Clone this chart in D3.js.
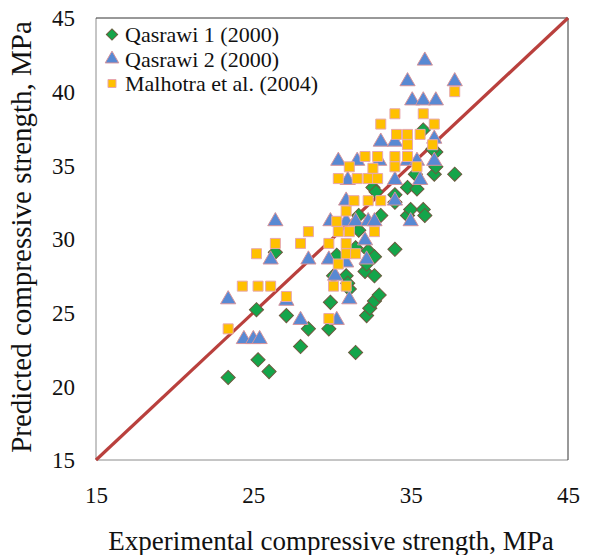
<!DOCTYPE html>
<html>
<head>
<meta charset="utf-8">
<script src="https://cdn.jsdelivr.net/npm/d3@7/dist/d3.min.js"></script>
<style>
  html, body { margin: 0; padding: 0; background: #fff; }
  svg { display: block; }
  svg text { font-family: "Liberation Serif", "Times New Roman", Tinos, "DejaVu Serif", serif; fill: #111; }
</style>
</head>
<body>
<svg id="chart" width="590" height="555"></svg>
<script>
// Experimental vs predicted compressive strength, MPa: [experimental, predicted]
const qasrawi1 = [
  [23.4, 20.6], [25.3, 21.8], [26.0, 21.0], [25.2, 25.2], [27.1, 24.8],
  [26.4, 29.1], [28.0, 22.7], [28.5, 23.9], [29.8, 23.9], [29.9, 25.7],
  [31.5, 22.3], [30.3, 28.9], [30.1, 27.5], [30.9, 27.5], [31.1, 26.6],
  [31.0, 27.0], [31.7, 30.6], [31.7, 31.6], [31.5, 29.4], [32.1, 27.8],
  [32.2, 28.3], [32.3, 29.2], [32.7, 28.8], [32.7, 27.5], [32.2, 24.8],
  [32.4, 25.3], [32.7, 25.8], [33.0, 26.2], [33.1, 31.6], [32.6, 33.5],
  [32.8, 33.2], [34.0, 29.3], [34.0, 33.0], [34.0, 32.5], [34.8, 33.5],
  [34.8, 31.6], [35.0, 32.0], [35.4, 33.4], [35.3, 34.4], [35.8, 32.0],
  [35.9, 31.6], [35.8, 37.4], [36.5, 34.4], [36.6, 34.9], [36.6, 35.9],
  [36.4, 36.1], [37.8, 34.4]
];
const qasrawi2 = [
  [23.4, 25.9], [24.4, 23.2], [25.0, 23.2], [25.4, 23.2], [26.1, 28.6],
  [26.4, 31.2], [27.1, 25.8], [28.0, 24.5], [28.5, 28.6], [29.8, 28.6],
  [29.9, 31.2], [30.4, 35.3], [30.3, 24.5], [30.2, 27.5], [30.9, 28.4],
  [30.9, 31.2], [30.9, 32.6], [31.0, 34.0], [31.1, 25.9], [31.5, 31.2],
  [31.6, 35.3], [32.1, 29.9], [32.2, 28.6], [32.3, 31.2], [32.7, 31.2],
  [33.1, 36.6], [33.0, 35.3], [34.0, 34.0], [34.0, 32.6], [34.0, 36.6],
  [34.8, 40.7], [35.0, 31.2], [35.1, 39.4], [34.8, 35.3], [35.4, 35.3],
  [35.6, 34.0], [35.8, 39.4], [35.9, 42.1], [36.5, 36.8], [36.5, 35.3],
  [36.6, 39.4], [37.8, 40.7]
];
const malhotra = [
  [23.4, 23.9], [24.3, 26.8], [25.2, 29.0], [25.3, 26.8], [26.1, 26.8],
  [26.4, 29.7], [27.1, 26.1], [28.0, 29.7], [28.5, 30.5], [29.8, 29.7],
  [29.8, 24.6], [30.4, 28.3], [30.1, 26.8], [30.9, 26.8], [30.3, 31.2],
  [30.4, 30.5], [30.4, 34.1], [30.9, 31.9], [30.9, 29.7], [30.9, 29.0],
  [31.1, 34.9], [31.1, 30.5], [31.5, 29.0], [31.4, 32.6], [31.6, 34.1],
  [32.1, 35.6], [32.3, 34.1], [32.3, 32.6], [32.6, 34.8], [32.9, 35.6],
  [32.9, 34.1], [33.1, 32.6], [32.7, 30.5], [33.1, 37.8], [34.0, 38.5],
  [34.1, 37.1], [34.0, 35.6], [34.0, 34.9], [34.8, 37.1], [34.8, 36.4],
  [34.8, 35.6], [35.6, 37.1], [35.4, 34.9], [35.8, 38.5], [36.5, 37.8],
  [36.4, 36.4], [37.8, 40.0]
];
const seriesNames = ["Qasrawi 1 (2000)", "Qasrawi 2 (2000)", "Malhotra et al. (2004)"];
const xTicks = [15, 25, 35, 45];
const yTicks = [15, 20, 25, 30, 35, 40, 45];
const domain = [15, 45];

const FONT = "'Liberation Serif', 'Times New Roman', Tinos, 'DejaVu Serif', serif";
const svg = d3.select("#chart");
const m = { left: 96, right: 568, top: 18, bottom: 460 };

const x = d3.scaleLinear().domain(domain).range([m.left, m.right]);
const y = d3.scaleLinear().domain(domain).range([m.bottom, m.top]);

// plot frame: lighter on the left/bottom, darker on the top/right
const frame = svg.append("g").attr("fill", "none").attr("stroke-width", 1);
frame.append("path")
  .attr("d", `M${m.left},${m.top}V${m.bottom}H${m.right}`)
  .attr("stroke", "#8c8c8c");
frame.append("path")
  .attr("d", `M${m.left},${m.top}H${m.right}V${m.bottom}`)
  .attr("stroke", "#333");

// line of equality
svg.append("line")
  .attr("x1", x(domain[0])).attr("y1", y(domain[0]))
  .attr("x2", x(domain[1])).attr("y2", y(domain[1]))
  .attr("stroke", "#b9403d").attr("stroke-width", 3.2);

// axes: labels only, no tick marks or domain lines
const gx = svg.append("g").attr("transform", `translate(0,${m.bottom})`)
  .call(d3.axisBottom(x).tickValues(xTicks).tickSize(0).tickPadding(0));
gx.attr("font-family", FONT);
gx.select(".domain").remove();
gx.selectAll("text")
  .attr("dy", null).attr("y", 43)
  .attr("font-family", FONT).style("font-size", "23px").attr("fill", "#111");

const gy = svg.append("g").attr("transform", `translate(${m.left},0)`)
  .call(d3.axisLeft(y).tickValues(yTicks).tickSize(0).tickPadding(0));
gy.attr("font-family", FONT);
gy.select(".domain").remove();
gy.selectAll("text")
  .attr("x", -21).attr("dy", "0.34em")
  .attr("font-family", FONT).style("font-size", "23px").attr("fill", "#111");

// markers, drawn series by series
const styles = [
  { data: qasrawi1, type: d3.symbolSquare, size: 100, rot: 45, fill: "#14a54a", stroke: "#6d5a3e" },
  { data: qasrawi2, type: d3.symbolTriangle, size: 100, rot: 0, fill: "#5889d3", stroke: "#d6939a" },
  { data: malhotra, type: d3.symbolSquare, size: 100, rot: 0, fill: "#ffc000", stroke: "#e7a7ae" }
];

styles.forEach(s => {
  svg.append("g").selectAll("path").data(s.data).join("path")
    .attr("d", d3.symbol().type(s.type).size(s.size)())
    .attr("transform", d => `translate(${x(d[0])},${y(d[1])}) rotate(${s.rot})`)
    .attr("fill", s.fill).attr("stroke", s.stroke).attr("stroke-width", 1);
});

// legend
const legend = svg.append("g").attr("transform", "translate(112,34.5)");
styles.forEach((s, i) => {
  const row = legend.append("g").attr("transform", `translate(0,${i * 24.5})`);
  row.append("path")
    .attr("d", d3.symbol().type(s.type).size(i === 1 ? 80 : 64)())
    .attr("transform", `rotate(${s.rot})`)
    .attr("fill", s.fill).attr("stroke", s.stroke).attr("stroke-width", 1);
  row.append("text")
    .attr("x", 13).attr("dy", "0.36em")
    .attr("font-family", FONT).style("font-size", "22px")
    .text(seriesNames[i]);
});

// axis titles
svg.append("text")
  .attr("x", 331).attr("y", 550)
  .attr("text-anchor", "middle")
  .attr("font-family", FONT).style("font-size", "27px")
  .text("Experimental compressive strength, MPa");

svg.append("text")
  .attr("transform", "translate(31,237) rotate(-90)")
  .attr("text-anchor", "middle")
  .attr("font-family", FONT).style("font-size", "29px")
  .text("Predicted compressive strength, MPa");
</script>
</body>
</html>
